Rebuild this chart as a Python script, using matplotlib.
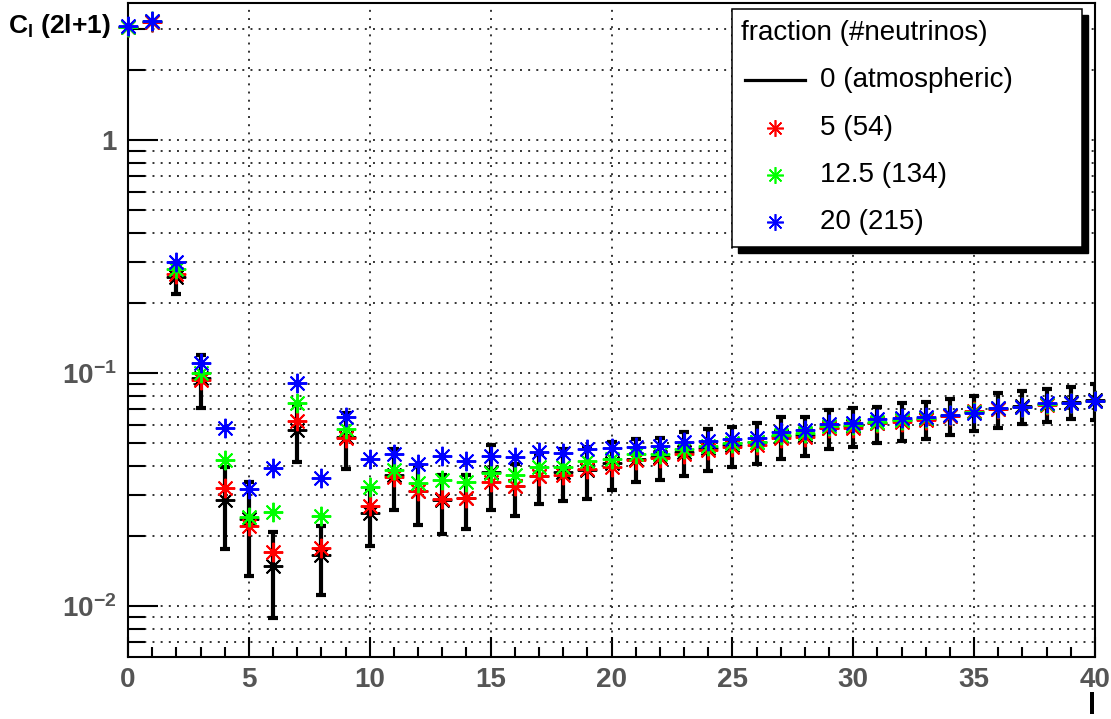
import matplotlib
matplotlib.use("Agg")
import matplotlib.pyplot as plt
import numpy as np
from matplotlib.lines import Line2D
from matplotlib.patches import Rectangle
from matplotlib.ticker import FixedLocator, LogLocator, MultipleLocator, FuncFormatter

plt.rcParams['font.family'] = ['Liberation Sans', 'DejaVu Sans']
plt.rcParams['mathtext.fontset'] = 'custom'
plt.rcParams['mathtext.rm'] = 'Liberation Sans'
plt.rcParams['mathtext.bf'] = 'Liberation Sans:bold'
plt.rcParams['mathtext.it'] = 'Liberation Sans:italic'

# multipole l
ell = np.arange(0, 41)

# fraction 0 (atmospheric), with errors
atm = [3.05, 3.22, 0.257, 0.095, 0.0285, 0.0237, 0.0148, 0.057, 0.0166, 0.053,
       0.025, 0.0365, 0.031, 0.0284, 0.029, 0.0375, 0.0326, 0.036, 0.0376, 0.0385,
       0.0411, 0.0429, 0.0437, 0.0459, 0.0476, 0.0491, 0.0507, 0.0536, 0.0543, 0.0582,
       0.0593, 0.0608, 0.0627, 0.0637, 0.0656, 0.0681, 0.0703, 0.072, 0.0734, 0.075,
       0.0765]
atm_err = [0.0, 0.0, 0.039, 0.024, 0.011, 0.0102, 0.0059, 0.0157, 0.0055, 0.0142,
           0.0069, 0.0107, 0.0088, 0.0081, 0.0075, 0.0116, 0.0082, 0.0087, 0.0094, 0.0097,
           0.0096, 0.009, 0.009, 0.0098, 0.0097, 0.0097, 0.0101, 0.0109, 0.0102, 0.0112,
           0.0113, 0.0109, 0.0115, 0.0116, 0.0115, 0.0116, 0.012, 0.0117, 0.0117, 0.0118,
           0.0135]

# fraction 5 (54)
red = [3.05, 3.22, 0.265, 0.0933, 0.032, 0.0221, 0.0171, 0.0622, 0.0177, 0.0524,
       0.0269, 0.0357, 0.0311, 0.0288, 0.029, 0.0342, 0.0327, 0.0361, 0.0365, 0.0386,
       0.0396, 0.0423, 0.0431, 0.0449, 0.0467, 0.048, 0.0491, 0.0524, 0.0533, 0.0579,
       0.0579, 0.0608, 0.0618, 0.063, 0.0656, 0.0689, 0.07, 0.0712, 0.073, 0.0742,
       0.0755]

# fraction 12.5 (134)
green = [3.05, 3.25, 0.279, 0.0997, 0.0423, 0.0242, 0.0252, 0.0746, 0.0243, 0.0573,
         0.0323, 0.0384, 0.0338, 0.0347, 0.0342, 0.0371, 0.0365, 0.0396, 0.0396, 0.0419,
         0.0426, 0.0448, 0.0449, 0.047, 0.0486, 0.0499, 0.0507, 0.0542, 0.0551, 0.0592,
         0.0598, 0.0618, 0.0628, 0.064, 0.0658, 0.068, 0.0705, 0.0714, 0.0735, 0.0745,
         0.0758]

# fraction 20 (215)
blue = [3.08, 3.24, 0.2986, 0.1107, 0.0579, 0.0318, 0.0392, 0.0909, 0.0353, 0.065,
        0.0426, 0.0448, 0.0405, 0.044, 0.0419, 0.044, 0.0435, 0.046, 0.0452, 0.047,
        0.0475, 0.0483, 0.0486, 0.0507, 0.0512, 0.0519, 0.0524, 0.056, 0.0569, 0.0604,
        0.0612, 0.0633, 0.0639, 0.065, 0.0661, 0.0676, 0.071, 0.0717, 0.0741, 0.0746,
        0.076]

legend_title = "fraction (#neutrinos)"
labels = ["0 (atmospheric)", "5 (54)", "12.5 (134)", "20 (215)"]
colors = ["black", "#ff0000", "#00ff00", "#0000ff"]

W, H = 1111, 719
STAR = (8, 2, 0)
TICKGREY = "#555555"


def fx(x):
    return x / W


def fy(y):
    return 1 - y / H


fig = plt.figure(figsize=(W / 100, H / 100), dpi=100)
ax = fig.add_axes([fx(128), fy(657), (1095 - 128) / W, (657 - 3) / H])
ax.set_yscale('log')
ax.set_xlim(0, 40)
ax.set_ylim(0.00604, 3.87)

# error bars of the atmospheric sample
atm_a = np.array(atm)
err_a = np.array(atm_err)
m = err_a > 0
ax.errorbar(ell[m], atm_a[m], yerr=err_a[m], fmt='none', ecolor='black',
            elinewidth=3, capsize=3.5, capthick=3, zorder=3)
ax.plot(ell, atm_a, ls='none', marker=STAR, ms=14, mew=1.4, color='black',
        clip_on=False, zorder=4)
for vals, c in zip([red, green, blue], colors[1:]):
    ax.plot(ell, vals, ls='none', marker=STAR, ms=14, mew=1.4, color=c,
            clip_on=False, zorder=5)

# axes style
grid_style = dict(ls=(0, (1, 3.2)), lw=1.4, color='#333333')
ax.xaxis.set_major_locator(MultipleLocator(5))
ax.xaxis.set_minor_locator(MultipleLocator(1))
ax.yaxis.set_major_locator(FixedLocator([0.01, 0.1, 1]))
ax.yaxis.set_minor_locator(LogLocator(base=10, subs=np.arange(2, 10), numticks=20))


def ylab(v, pos):
    if v >= 1:
        return "1"
    return r"$\mathbf{10^{%d}}$" % int(round(np.log10(v)))


ax.yaxis.set_major_formatter(FuncFormatter(ylab))
ax.grid(True, which='major', axis='x', **grid_style)
ax.grid(True, which='both', axis='y', **grid_style)
ax.tick_params(axis='x', which='major', direction='in', length=14.4, width=1.5,
               pad=7, labelsize=20, labelcolor=TICKGREY)
ax.tick_params(axis='x', which='minor', direction='in', length=7.2, width=1.5)
ax.tick_params(axis='y', which='major', direction='in', length=21.6, width=1.5,
               pad=8, labelsize=20, labelcolor=TICKGREY)
ax.tick_params(axis='y', which='minor', direction='in', length=12, width=1.5,
               labelleft=False)
for sp in ax.spines.values():
    sp.set_linewidth(1.5)
plt.setp(ax.get_xticklabels(), fontweight='bold')
plt.setp(ax.get_yticklabels(), fontweight='bold')

# axis titles
fig.text(fx(8), fy(33), r"$\mathbf{C_{l}}$ (2l+1)", fontsize=19,
         fontweight='bold', ha='left', va='baseline')
fig.text(fx(1092), fy(714), "l", fontsize=21, fontweight='bold',
         ha='center', va='baseline')

# legend box with shadow
fig.patches.append(Rectangle((fx(738), fy(253)), (1088 - 738) / W, (253 - 15) / H,
                             transform=fig.transFigure, facecolor='black',
                             edgecolor='black', zorder=10))
fig.patches.append(Rectangle((fx(732), fy(247)), (1082 - 732) / W, (247 - 9) / H,
                             transform=fig.transFigure, facecolor='white',
                             edgecolor='black', lw=1.1, zorder=11))
fig.text(fx(741), fy(33), legend_title, fontsize=20, ha='left', va='center',
         zorder=12)
rows = [80, 128, 175, 222]
for i, (lab, c) in enumerate(zip(labels, colors)):
    yy = fy(rows[i])
    if i == 0:
        fig.add_artist(Line2D([fx(745), fx(805)], [yy, yy], color=c, lw=2.3,
                              transform=fig.transFigure, zorder=12))
    else:
        fig.add_artist(Line2D([fx(775)], [yy], ls='none', marker=STAR, ms=12,
                              mew=1.2, color=c, transform=fig.transFigure,
                              zorder=12))
    fig.text(fx(820), yy, lab, fontsize=20, ha='left', va='center', zorder=12)

fig.savefig("out.png", dpi=100)
